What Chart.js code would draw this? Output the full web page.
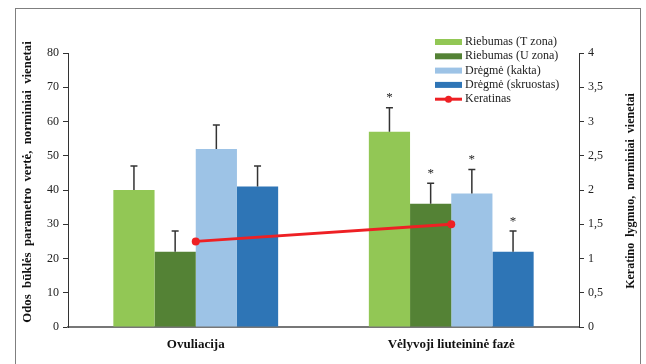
<!DOCTYPE html>
<html>
<head>
<meta charset="utf-8">
<script src="https://cdn.jsdelivr.net/npm/chart.js@4"></script>
<style>
  html, body { margin: 0; padding: 0; background: #fff; }
  #wrap { width: 646px; height: 364px; }
</style>
</head>
<body>
<div id="wrap"><canvas id="skinChart"></canvas></div>
<script>
const phases = ['Ovuliacija', 'Vėlyvoji liuteininė fazė'];
const seriesNames = ['Riebumas (T zona)', 'Riebumas (U zona)', 'Drėgmė (kakta)', 'Drėgmė (skruostas)'];
const seriesValues = [
    [40, 57],
    [22, 36],
    [52, 39],
    [41, 22]
];
const seriesErrors = [
    [7, 7],
    [6, 6],
    [7, 7],
    [6, 6]
];
const significant = [
    [false, true],
    [false, true],
    [false, true],
    [false, true]
];
const keratinName = 'Keratinas';
const keratinValues = [1.25, 1.5];
const leftTicks = [0, 10, 20, 30, 40, 50, 60, 70, 80];
const rightTicks = [0, 0.5, 1, 1.5, 2, 2.5, 3, 3.5, 4];
const leftTitle = 'Odos  būklės  parametro  vertė,  norminiai  vienetai';
const rightTitle = 'Keratino  lygmuo,  norminiai  vienetai';

const barColors = ['#92C755', '#548235', '#9DC3E6', '#2E75B6'];
const lineColor = '#EE2024';
const serif = '"Liberation Serif", "DejaVu Serif", serif';

// frame round the whole figure
const framePlugin = {
    id: 'frame',
    beforeDraw(chart) {
        const ctx = chart.ctx;
        ctx.save();
        ctx.strokeStyle = '#7f7f7f';
        ctx.lineWidth = 1;
        ctx.strokeRect(15.5, 8.5, 625, 400);
        ctx.restore();
    }
};

// both axis titles read bottom to top
const titlePlugin = {
    id: 'axisTitles',
    afterDraw(chart) {
        const ctx = chart.ctx;
        const area = chart.chartArea;
        const mid = (area.top + area.bottom) / 2;
        ctx.save();
        ctx.fillStyle = '#111';
        ctx.font = 'bold 12.8px ' + serif;
        ctx.textAlign = 'center';
        ctx.textBaseline = 'middle';
        ctx.translate(28, mid - 8);
        ctx.rotate(-Math.PI / 2);
        ctx.fillText(leftTitle, 0, 0);
        ctx.restore();

        ctx.save();
        ctx.fillStyle = '#111';
        ctx.font = 'bold 12px ' + serif;
        ctx.textAlign = 'center';
        ctx.textBaseline = 'middle';
        ctx.translate(631, mid + 1);
        ctx.rotate(-Math.PI / 2);
        ctx.fillText(rightTitle, 0, 0);
        ctx.restore();
    }
};

// error bars and asterisks on top of the bars
const errorPlugin = {
    id: 'errors',
    afterDatasetsDraw(chart) {
        const ctx = chart.ctx;
        const y = chart.scales.y;
        ctx.save();
        for (let i = 0; i < seriesValues.length; i++) {
            const meta = chart.getDatasetMeta(i);
            meta.data.forEach(function (bar, j) {
                const top = y.getPixelForValue(seriesValues[i][j] + seriesErrors[i][j]);
                ctx.strokeStyle = '#333';
                ctx.lineWidth = 1.5;
                ctx.beginPath();
                ctx.moveTo(bar.x, bar.y);
                ctx.lineTo(bar.x, top);
                ctx.moveTo(bar.x - 3.5, top);
                ctx.lineTo(bar.x + 3.5, top);
                ctx.stroke();
                if (significant[i][j]) {
                    ctx.fillStyle = '#222';
                    ctx.font = '13px ' + serif;
                    ctx.textAlign = 'center';
                    ctx.textBaseline = 'middle';
                    ctx.fillText('*', bar.x, top - 10);
                }
            });
        }
        ctx.restore();
    }
};

// legend drawn inside the plot, top right
const legendPlugin = {
    id: 'innerLegend',
    afterDraw(chart) {
        const ctx = chart.ctx;
        const x0 = 435, sw = 27, textX = 465;
        let yy = 42;
        const step = 14.3;
        ctx.save();
        ctx.font = '12px ' + serif;
        ctx.textBaseline = 'middle';
        ctx.textAlign = 'left';
        for (let i = 0; i < seriesNames.length; i++) {
            ctx.fillStyle = barColors[i];
            ctx.fillRect(x0, yy - 3, sw, 6);
            ctx.fillStyle = '#222';
            ctx.fillText(seriesNames[i], textX, yy);
            yy += step;
        }
        ctx.strokeStyle = lineColor;
        ctx.lineWidth = 3;
        ctx.beginPath();
        ctx.moveTo(x0, yy);
        ctx.lineTo(x0 + sw, yy);
        ctx.stroke();
        ctx.fillStyle = lineColor;
        ctx.beginPath();
        ctx.arc(x0 + sw / 2, yy, 3.5, 0, Math.PI * 2);
        ctx.fill();
        ctx.fillStyle = '#222';
        ctx.fillText(keratinName, textX, yy);
        ctx.restore();
    }
};

const datasets = [];
for (let i = 0; i < seriesNames.length; i++) {
    datasets.push({
        type: 'bar',
        label: seriesNames[i],
        data: seriesValues[i],
        backgroundColor: barColors[i],
        yAxisID: 'y',
        categoryPercentage: 0.645,
        barPercentage: 1,
        order: 1
    });
}
datasets.push({
    type: 'line',
    label: keratinName,
    data: keratinValues,
    yAxisID: 'y2',
    borderColor: lineColor,
    backgroundColor: lineColor,
    borderWidth: 3,
    pointRadius: 4,
    pointBackgroundColor: lineColor,
    pointBorderWidth: 0,
    order: 0
});

const ctx = document.getElementById('skinChart').getContext('2d');
new Chart(ctx, {
    data: {
        labels: phases,
        datasets: datasets
    },
    options: {
        responsive: true,
        maintainAspectRatio: false,
        animation: false,
        layout: { padding: { top: 53, left: 0, right: 0, bottom: 0 } },
        plugins: {
            legend: { display: false },
            tooltip: { enabled: false }
        },
        scales: {
            x: {
                grid: { display: false, drawTicks: false },
                border: { color: '#777', width: 2 },
                ticks: {
                    color: '#111',
                    padding: 10,
                    font: { family: serif, size: 13, weight: 'bold' }
                },
                afterFit(scale) { scale.height = 37; }
            },
            y: {
                position: 'left',
                min: 0,
                max: 80,
                afterBuildTicks(scale) {
                    scale.ticks = leftTicks.map(function (v) { return { value: v }; });
                },
                grid: { drawOnChartArea: false, tickLength: 5, color: '#333' },
                border: { color: '#333', width: 1 },
                ticks: {
                    color: '#222',
                    padding: 4,
                    font: { family: serif, size: 12 }
                },
                afterFit(scale) { scale.width = 68; }
            },
            y2: {
                position: 'right',
                min: 0,
                max: 4,
                afterBuildTicks(scale) {
                    scale.ticks = rightTicks.map(function (v) { return { value: v }; });
                },
                grid: { drawOnChartArea: false, tickLength: 5, color: '#333' },
                border: { color: '#333', width: 1 },
                ticks: {
                    color: '#222',
                    padding: 4,
                    font: { family: serif, size: 12 },
                    callback: function (v) { return String(v).replace('.', ','); }
                },
                afterFit(scale) { scale.width = 67; }
            }
        }
    },
    plugins: [framePlugin, titlePlugin, errorPlugin, legendPlugin]
});
</script>
</body>
</html>
